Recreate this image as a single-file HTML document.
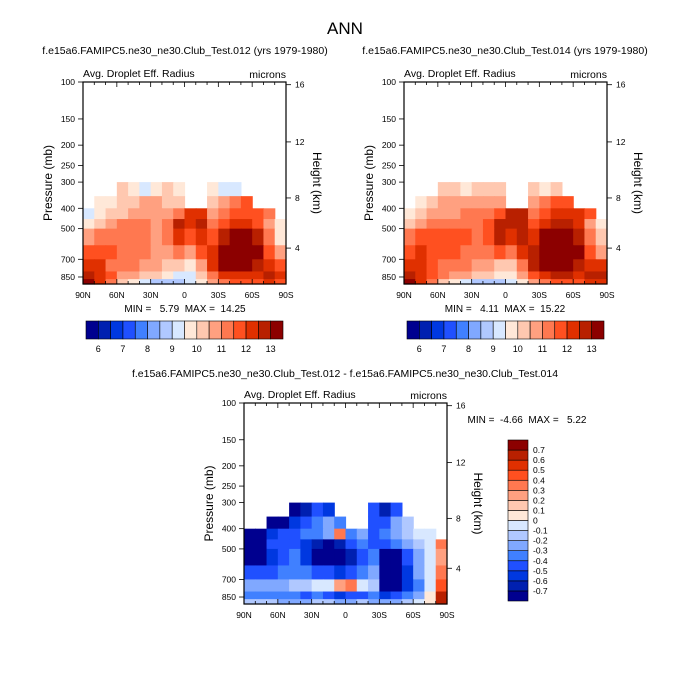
<!DOCTYPE html>
<html><head><meta charset="utf-8">
<style>
html,body{margin:0;padding:0;background:#fff;}
svg{display:block;font-family:"Liberation Sans",sans-serif;}
svg text{white-space:pre;}
</style></head>
<body>
<svg id="fig" width="691" height="690" viewBox="0 0 691 690" xmlns="http://www.w3.org/2000/svg">
<text x="345" y="34" font-size="17" text-anchor="middle">ANN</text>
</svg>
<script>
// ---------- data ----------
const latEdges = [90,80,70,60,50,40,30,20,10,0,-10,-20,-30,-40,-50,-60,-70,-80,-90];
const presEdges = [300,350,400,450,500,600,700,800,870,918];
const N = null;
const fieldA = [
 [N,N,N,10,9.7,9.3,9.8,10,9.7,N,N,9.8,9.0,9.3,N,N,N,N],
 [N,9.5,9.8,10,10.3,10.5,10.5,10.3,10.3,N,N,10,10.5,11,11.5,N,N,N],
 [9.3,9.7,10,10.3,10.5,10.7,10.7,10.5,11,12.3,12,10.8,11.2,11.8,11.8,11.8,11.3,N],
 [9.5,10.3,10.8,11,11,11,10.8,11,12.5,12,12.5,11,11.5,12,12.2,11.8,10.5,9.5],
 [10.5,11,11.3,11.2,11.3,11,10.8,11,12,11.5,12,11.5,12.5,13.5,13.5,12.5,11,9.8],
 [11.5,11.8,11.5,11.2,11.2,11,10.8,10.5,11,10.5,11.5,12,13.5,14,14,13.5,11.5,10.5],
 [12,12,11.3,11,11,10.8,10.5,10.2,10,9.5,10.5,12,13,13.5,13.5,12.5,12,11.5],
 [12.5,12,11.5,10.8,10.5,10.3,10,9.8,9.3,9,10,11,12,12.3,12.3,12,12.5,12],
 [13,12,11,10,9.5,9,8.5,8.5,8.5,9,9.5,10.5,11,11.5,11.5,11.5,12,11.5]
];
const fieldB = [
 [N,N,N,10.2,10,9.8,10,10.2,10,N,N,10,9.8,10,N,N,N,N],
 [N,9.8,10.2,10.5,10.7,10.8,10.8,10.5,10.7,N,N,10.5,11,11.5,11.8,N,N,N],
 [9.8,10,10.5,10.7,10.8,11,11,11,11.5,12.7,12.5,11.3,11.7,12.2,12.2,12,11.5,N],
 [10,10.7,11.2,11.3,11.3,11.3,11.2,11.5,12.8,12.5,12.8,11.5,12,12.5,12.5,12,10.8,9.8],
 [11,11.5,11.7,11.5,11.5,11.5,11.3,11.5,12.5,12,12.5,12,13,13.8,13.8,12.8,11.3,10],
 [11.8,12,11.8,11.5,11.5,11.3,11.2,11,11.5,11,12,12.5,13.8,14.5,14.5,13.8,11.8,10.8],
 [12.3,12.3,11.5,11.3,11.3,11,10.8,10.5,10.3,10,11,12.5,13.3,13.8,13.8,12.8,12.3,12],
 [12.8,12.3,11.8,11.2,10.8,10.7,10.3,10.2,9.8,9.5,10.5,11.5,12.3,12.5,12.5,12.3,12.8,12.5],
 [13.2,12.3,11.3,10.3,9.8,9.3,8.8,8.8,8.8,9.3,9.8,10.8,11.3,11.8,11.8,11.8,12.3,12]
];
const fieldD = [
 [N,N,N,N,-0.8,-0.7,-0.5,-0.6,N,N,N,-0.5,-0.7,-0.5,N,N,N,N],
 [N,N,-0.75,-0.8,-0.6,-0.5,-0.4,-0.3,-0.4,N,N,-0.5,-0.5,-0.3,-0.2,N,N,N],
 [-0.8,-0.8,-0.6,-0.5,-0.5,-0.4,-0.4,-0.3,0.3,-0.4,-0.3,-0.5,-0.4,-0.3,-0.2,-0.1,-0.05,N],
 [-0.8,-0.8,-0.5,-0.5,-0.5,-0.6,-0.7,-0.8,-0.7,-0.5,-0.4,-0.5,-0.5,-0.4,-0.3,-0.2,-0.1,0.3],
 [-0.8,-0.8,-0.6,-0.5,-0.4,-0.6,-0.8,-0.8,-0.8,-0.7,-0.5,-0.4,-0.8,-0.8,-0.5,-0.3,-0.1,0.2],
 [-0.5,-0.5,-0.5,-0.4,-0.4,-0.4,-0.5,-0.5,-0.6,-0.5,-0.4,-0.3,-0.8,-0.8,-0.6,-0.3,-0.1,0.3],
 [-0.3,-0.3,-0.3,-0.3,-0.2,-0.2,-0.1,-0.05,0.2,0.3,-0.1,-0.2,-0.8,-0.8,-0.6,-0.4,-0.1,0.4],
 [-0.4,-0.4,-0.4,-0.4,-0.4,-0.5,-0.4,-0.5,-0.6,-0.5,-0.5,-0.4,-0.6,-0.5,-0.4,-0.3,0,0.6],
 [-0.2,-0.2,-0.2,-0.3,-0.3,-0.3,-0.2,-0.2,-0.3,-0.3,-0.2,-0.3,-0.3,-0.3,-0.2,-0.1,0,0.6]
];
const levelsA = [6,6.5,7,7.5,8,8.5,9,9.5,10,10.5,11,11.5,12,12.5,13];
const levelsD = [-0.7,-0.6,-0.5,-0.4,-0.3,-0.2,-0.1,0,0.1,0.2,0.3,0.4,0.5,0.6,0.7];
const cbarLabelsA = ["6","7","8","9","10","11","12","13"];
const cbarLabelsD = ["-0.7","-0.6","-0.5","-0.4","-0.3","-0.2","-0.1","0","0.1","0.2","0.3","0.4","0.5","0.6","0.7"];
const xTickLats = [90,60,30,0,-30,-60,-90];
const xTickLabels = ["90N","60N","30N","0","30S","60S","90S"];
const pTicks = [100,150,200,250,300,400,500,700,850];
const hTickLabels = ["16","12","8","4"];
const hTickPres = [103,193,357,619];
const palette = ["#00008f","#0020b0","#0038e0","#2050ff","#4080ff","#80a8ff","#b0c8ff","#d8e8ff","#ffe8d8","#ffc8b0","#ffa080","#ff7850","#ff5020","#e03000","#b82000","#8c0000"];

// ---------- drawing ----------
const NS="http://www.w3.org/2000/svg";
const svg=document.getElementById('fig');
function mk(tag,attrs,parent){const e=document.createElementNS(NS,tag);for(const k in attrs)e.setAttribute(k,attrs[k]);(parent||svg).appendChild(e);return e;}
function txt(x,y,s,size,anchor,parent){const t=mk('text',{x:x,y:y,'font-size':size,'text-anchor':anchor||'start'},parent);t.textContent=s;return t;}
function colorFor(v,levels){let i=0;while(i<levels.length&&v>=levels[i])i++;return palette[i];}

function panel(x0,y0,w,h,field,levels,name){
  const g=mk('g',{});
  
  
  const k=h/Math.log(918/100);
  const yOf=p=>y0+Math.log(p/100)*k;
  const xOf=lat=>x0+(90-lat)/180*w;
  for(let r=0;r<field.length;r++){
    for(let c=0;c<field[r].length;c++){
      const v=field[r][c]; if(v===null)continue;
      const xa=xOf(latEdges[c]),xb=xOf(latEdges[c+1]);
      const ya=yOf(presEdges[r]),yb=yOf(presEdges[r+1]);
      const cell=mk('rect',{x:xa,y:ya,width:xb-xa+0.6,height:yb-ya+0.6,fill:colorFor(v,levels)},g);
      
      
    }
  }
  mk('rect',{x:x0,y:y0,width:w,height:h,fill:'none',stroke:'#000','stroke-width':1.2},g);
  for(let lat=90;lat>=-90;lat-=10){
    const x=xOf(lat),major=lat%30===0;
    mk('line',{x1:x,y1:y0+h,x2:x,y2:y0+h-(major?5:3),stroke:'#000','stroke-width':0.8},g);
    mk('line',{x1:x,y1:y0,x2:x,y2:y0+(major?5:3),stroke:'#000','stroke-width':0.8},g);
  }
  xTickLats.forEach((lat,i)=>{const t=txt(xOf(lat),y0+h+14,xTickLabels[i],8.5,'middle',g);
    });
  pTicks.forEach(p=>{const y=yOf(p);
    mk('line',{x1:x0-5,y1:y,x2:x0,y2:y,stroke:'#000','stroke-width':0.8},g);
    const t=txt(x0-8,y+3,String(p),8.5,'end',g);
    });
  hTickPres.forEach((p,i)=>{const y=yOf(p);
    mk('line',{x1:x0+w,y1:y,x2:x0+w+5,y2:y,stroke:'#000','stroke-width':0.8},g);
    const t=txt(x0+w+9,y+3,hTickLabels[i],8.5,'start',g);
    });
  const yt=txt(0,0,'Pressure (mb)',12,'middle',g);
  yt.setAttribute('transform',`translate(${x0-31},${y0+h/2}) rotate(-90)`);
  
  const ht=txt(0,0,'Height (km)',12,'middle',g);
  ht.setAttribute('transform',`translate(${x0+w+27},${y0+h/2}) rotate(90)`);
  
  const a=txt(x0,y0-5,'Avg. Droplet Eff. Radius',10.5,'start',g);
  
  const m=txt(x0+w,y0-4,'microns',10.5,'end',g);
  
}

function hbar(x0,y0,w,h,labels,name){
  const g=mk('g',{});
  
  
  const bw=w/palette.length;
  palette.forEach((c,i)=>{const b=mk('rect',{x:x0+i*bw,y:y0,width:bw,height:h,fill:c,stroke:'#000','stroke-width':0.6},g);
    });
  labels.forEach((s,i)=>{const t=txt(x0+(2*i+1)*bw,y0+h+13,s,9,'middle',g);
    });
}
function vbar(x0,y0,w,h,labels,name){
  const g=mk('g',{});
  
  
  const bh=h/palette.length;
  palette.forEach((c,i)=>{const b=mk('rect',{x:x0,y:y0+h-(i+1)*bh,width:w,height:bh,fill:c,stroke:'#000','stroke-width':0.6},g);
    });
  labels.forEach((s,i)=>{const t=txt(x0+w+5,y0+h-(i+1)*bh+3,s,8.5,'start',g);
    });
}

let t;
t=txt(185,54,'f.e15a6.FAMIPC5.ne30_ne30.Club_Test.012 (yrs 1979-1980)',10.5,'middle');

t=txt(505,54,'f.e15a6.FAMIPC5.ne30_ne30.Club_Test.014 (yrs 1979-1980)',10.5,'middle');

t=txt(345,377,'f.e15a6.FAMIPC5.ne30_ne30.Club_Test.012 - f.e15a6.FAMIPC5.ne30_ne30.Club_Test.014',10.5,'middle');


panel(83,82,203,202,fieldA,levelsA,'left-panel');
panel(404,82,203,202,fieldB,levelsA,'right-panel');
panel(244,403,203,201,fieldD,levelsD,'diff-panel');

t=txt(185,312,'MIN =   5.79  MAX =  14.25',10,'middle');

t=txt(505,312,'MIN =   4.11  MAX =  15.22',10,'middle');

t=txt(527,423,'MIN =  -4.66  MAX =   5.22',10,'middle');


hbar(86,321,197,18,cbarLabelsA,'left-colorbar');
hbar(407,321,197,18,cbarLabelsA,'right-colorbar');
vbar(508,440,20,161,cbarLabelsD,'diff-colorbar');
</script>
</body></html>
